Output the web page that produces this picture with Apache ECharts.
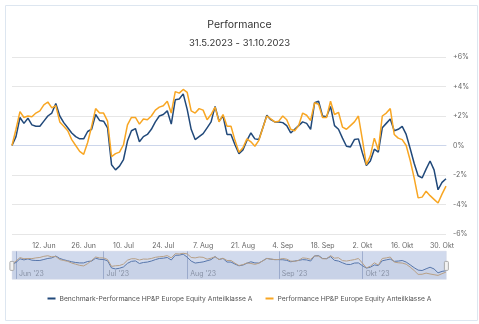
<!DOCTYPE html>
<html><head><meta charset="utf-8">
<script src="https://cdn.jsdelivr.net/npm/echarts@6/dist/echarts.min.js"></script>
<style>html,body{margin:0;padding:0;background:#fff}#c{width:479px;height:324px}</style>
</head><body><div id="c"></div>
<script>
// trading days 31.5.2023 - 31.10.2023
const startDate = '2023-05-31';
const endDate = '2023-10-31';
const tickDates = ['2023-06-12','2023-06-26','2023-07-10','2023-07-24','2023-08-07','2023-08-21','2023-09-04','2023-09-18','2023-10-02','2023-10-16','2023-10-30'];
const monthStarts = ['2023-06-01','2023-07-03','2023-08-01','2023-09-01','2023-10-02'];
const monthNames = ['Jan','Feb','Mär','Apr','Mai','Jun','Jul','Aug','Sep','Okt','Nov','Dez'];
const yTicks = [-6,-4,-2,0,2,4,6];
const benchmarkName = 'Benchmark-Performance HP&P Europe Equity Anteilklasse A';
const fundName = 'Performance HP&P Europe Equity Anteilklasse A';
const benchmark = [
 0, 0.6, 1.9, 1.5, 1.85, 1.4, 1.3, 1.3, 1.65, 2.0,
 2.2, 2.85, 2.0, 1.55, 1.2, 0.85, 0.6, 0.45, 0.45, 0.95,
 1.1, 2.1, 1.7, 1.65, 1.2, -1.3, -1.65, -1.4, -0.95, 0.3,
 1.0, 1.15, 0.25, 0.6, 0.75, 1.1, 1.6, 2.0, 2.1, 2.35,
 1.45, 3.1, 3.15, 3.5, 2.45, 1.1, 0.4, 0.6, 0.8, 1.2,
 1.6, 2.65, 1.65, 2.0, 0.75, 0.75, 0.05, -0.55, -0.3, 0.35,
 0.85, 0.45, 0.4, 1.2, 2.05, 1.75, 1.6, 1.6, 1.55, 1.35,
 0.85, 1.1, 1.35, 1.6, 1.5, 1.1, 2.9, 3.0, 2.0, 1.95,
 2.65, 1.35, 1.1, 0.5, -0.05, -0.1, 0.4, 0.45, -0.5, -1.35,
 -1.05, -0.25, -0.45, 1.2, 1.5, 1.8, 1.0, 1.1, 1.3, 0.75,
 -0.2, -1.2, -2.05, -2.2, -1.6, -1.05, -1.65, -3.0, -2.5, -2.25
];
const fund = [
 0, 1.1, 2.3, 1.9, 2.0, 1.95, 2.2, 2.35, 2.75, 2.95,
 2.55, 2.7, 1.6, 1.3, 1.0, 0.4, 0.0, -0.4, -0.6, 0.2,
 1.3, 2.5, 2.2, 2.2, 1.65, -0.75, -0.55, -0.45, 0.05, 1.4,
 1.9, 1.9, 1.45, 1.8, 1.75, 2.0, 2.4, 2.6, 2.7, 3.0,
 2.2, 3.65, 3.55, 3.8, 3.6, 2.35, 2.2, 2.5, 2.4, 1.75,
 2.1, 2.6, 1.6, 2.1, 1.3, 1.3, 0.35, -0.45, -0.15, 0.45,
 0.25, -0.05, 0.35, 1.2, 2.0, 1.8, 1.6, 1.65, 2.0, 1.75,
 1.1, 1.0, 1.35, 2.2, 2.05, 1.7, 2.9, 2.8, 1.9, 1.9,
 3.0, 2.1, 2.25, 1.25, 1.1, 1.35, 1.6, 2.0, 0.4, -1.3,
 -0.7, 0.5, -0.3, 2.0, 2.2, 2.5, 0.75, 0.5, 0.4, 0.0,
 -1.0, -2.2, -3.55, -3.5, -3.1, -3.4, -3.65, -3.9, -3.3, -2.75
];

function tradingDays(a, b) {
  const out = [];
  const d = new Date(a + 'T12:00:00Z'), e = new Date(b + 'T12:00:00Z');
  while (d <= e) {
    const w = d.getUTCDay();
    if (w !== 0 && w !== 6) out.push(d.toISOString().slice(0, 10));
    d.setUTCDate(d.getUTCDate() + 1);
  }
  return out;
}
const dates = tradingDays(startDate, endDate);
const NAVY = '#21497a', ORANGE = '#f8a623';
const FONT = 'Inter';

function fmtTick(v) {
  const p = v.split('-');
  return (+p[2]) + '. ' + monthNames[+p[1] - 1];
}
function fmtMonth(v) {
  const p = v.split('-');
  return monthNames[+p[1] - 1] + " '" + p[0].slice(2);
}

const chart = echarts.init(document.getElementById('c'), null, {renderer: 'canvas'});
chart.setOption({
  animation: false,
  textStyle: {fontFamily: FONT},
  title: {
    text: 'Performance', subtext: '31.5.2023 - 31.10.2023',
    left: 'center', top: 14, itemGap: 8,
    textStyle: {fontFamily: FONT, fontSize: 10.5, fontWeight: 'normal', color: '#333'},
    subtextStyle: {fontFamily: FONT, fontSize: 9.5, color: '#333'}
  },
  legend: {
    data: [benchmarkName, fundName], left: 'center', top: 290,
    icon: 'rect', itemWidth: 8, itemHeight: 2, itemGap: 13,
    textStyle: {fontFamily: FONT, fontSize: 6.75, color: '#555', padding: [0,0,0,-1]}
  },
  grid: [
    {left: 12, right: 33, top: 57, height: 177},
    {left: 12, right: 33, top: 251, height: 28}
  ],
  xAxis: [{
    type: 'category', data: dates, boundaryGap: false, gridIndex: 0,
    axisLine: {lineStyle: {color: '#ccd6eb', width: 1}},
    axisTick: {show: false},
    axisLabel: {
      interval: (i, v) => tickDates.indexOf(v) >= 0,
      formatter: fmtTick, color: '#666', fontSize: 7, margin: 8, fontFamily: FONT
    },
    splitLine: {show: false}
  }, {
    type: 'category', data: dates, boundaryGap: false, gridIndex: 1,
    axisLine: {show: false}, axisTick: {show: false},
    axisLabel: {
      inside: true, interval: (i, v) => monthStarts.indexOf(v) >= 0,
      formatter: fmtMonth, color: '#999', fontSize: 7, align: 'left',
      margin: 2, padding: [0,0,0,3], fontFamily: FONT
    },
    splitLine: {show: true, interval: (i, v) => monthStarts.indexOf(v) >= 0, lineStyle: {color: '#b8c0d4', width: 1}}
  }],
  yAxis: [{
    type: 'value', position: 'right', min: -6, max: 6, interval: 2, gridIndex: 0,
    axisLine: {show: false}, axisTick: {show: false},
    axisLabel: {
      formatter: v => (v > 0 ? '+' : '') + v + '%', color: '#666', fontSize: 7, margin: 7, fontFamily: FONT
    },
    splitLine: {lineStyle: {color: '#e6e6e6', width: 1}}
  }, {
    type: 'value', min: -5.15, max: 4.6, gridIndex: 1, show: false,
    splitLine: {show: false}
  }],
  series: [{
    name: benchmarkName, type: 'line', data: benchmark, xAxisIndex: 0, yAxisIndex: 0,
    showSymbol: false, lineStyle: {color: NAVY, width: 1.5}, itemStyle: {color: NAVY}
  }, {
    name: fundName, type: 'line', data: fund, xAxisIndex: 0, yAxisIndex: 0,
    showSymbol: false, lineStyle: {color: ORANGE, width: 1.5}, itemStyle: {color: ORANGE}
  }, {
    name: 'nav1', type: 'line', data: benchmark, xAxisIndex: 1, yAxisIndex: 1,
    showSymbol: false, lineStyle: {color: '#4f6fa0', width: 1}, silent: true,
    areaStyle: {color: 'rgba(120,130,150,0.12)', origin: 'start'}
  }, {
    name: 'nav2', type: 'line', data: fund, xAxisIndex: 1, yAxisIndex: 1,
    showSymbol: false, lineStyle: {color: '#d9aa6a', width: 1}, silent: true
  }],
  graphic: [
    {type: 'rect', left: 3, top: 3, shape: {width: 472, height: 315},
     style: {fill: 'none', stroke: '#dde6f0', lineWidth: 1}, silent: true, z: -10},
    {type: 'rect', left: 12, top: 251, shape: {width: 434, height: 28},
     style: {fill: 'rgba(102,133,194,0.3)', stroke: '#c8cfe0', lineWidth: 0.5}, silent: true, z: 10},
    {type: 'rect', left: 9.5, top: 261, shape: {width: 4, height: 9, r: 1},
     style: {fill: '#f2f2f2', stroke: '#999', lineWidth: 0.8}, silent: true, z: 11},
    {type: 'rect', left: 444, top: 261, shape: {width: 4, height: 9, r: 1},
     style: {fill: '#f2f2f2', stroke: '#999', lineWidth: 0.8}, silent: true, z: 11}
  ]
});
</script></body></html>
